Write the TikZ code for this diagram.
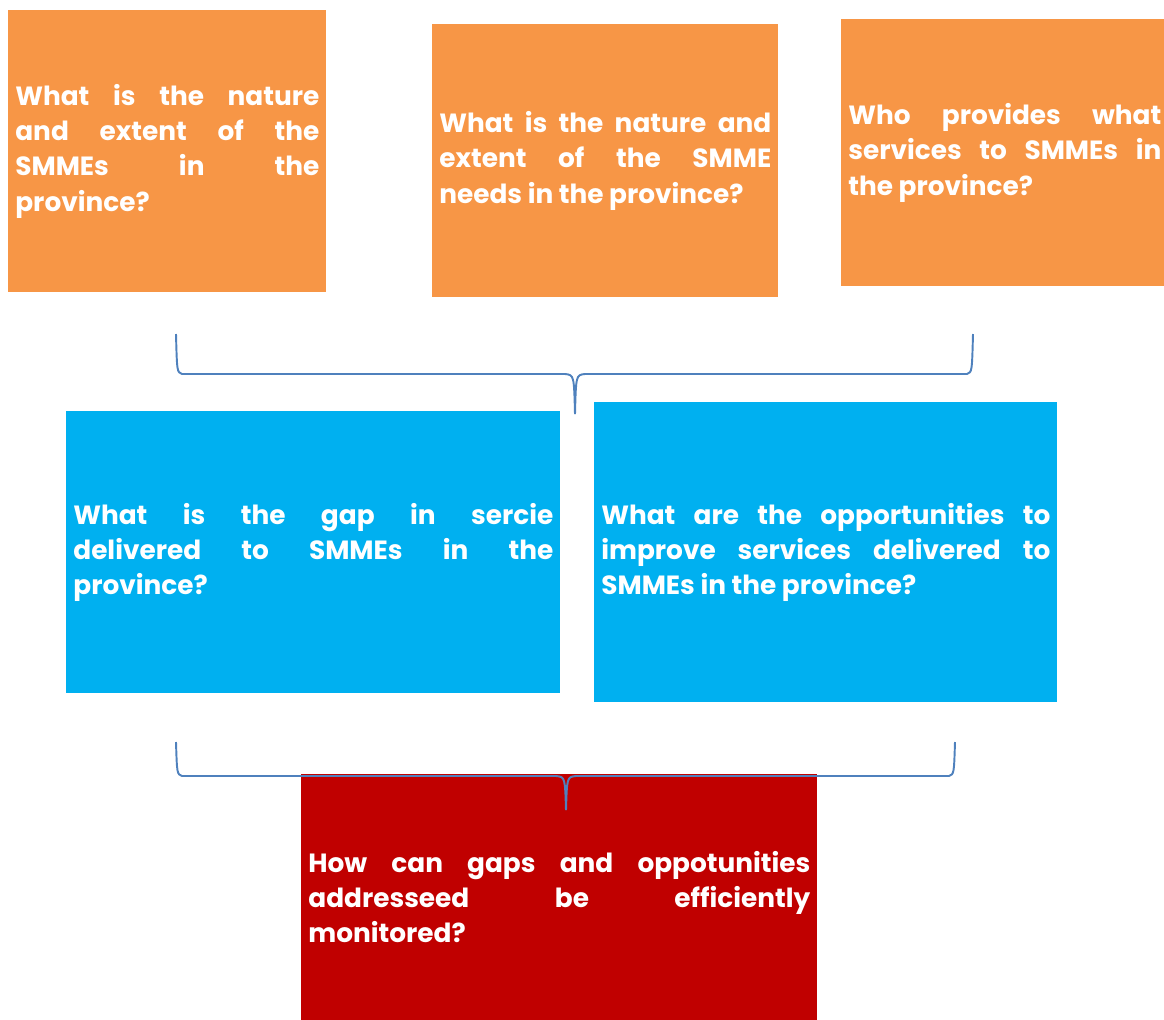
\documentclass[tikz,border=0pt]{standalone}
\usepackage{fontspec}
\setmainfont{Poppins}
\usepackage{xcolor}
\usepackage{tikz}
\usetikzlibrary{positioning}
\definecolor{qorange}{HTML}{F79646}
\definecolor{qblue}{HTML}{00B0F0}
\definecolor{qred}{HTML}{C00000}
\definecolor{bracecol}{HTML}{4F81BD}

\tikzset{
  question/.style={anchor=north west, inner xsep=0.14cm, inner ysep=0pt,
    text=white, align=justify, font=\bfseries\fontsize{15}{20}\selectfont},
  bracket/.style={draw=bracecol, line width=1.1pt}
}

\begin{document}
\begin{tikzpicture}
  \useasboundingbox (0,0) rectangle (23.28,-20.4);

  % top row
  \node[question, fill=qorange, minimum width=6.36cm, minimum height=5.64cm,
        text width=6.08cm] (nature) at (0.16,-0.20)
    {What is the nature\linebreak and extent of the\linebreak SMMEs in the\linebreak province?};
  \node[question, fill=qorange, minimum width=6.92cm, minimum height=5.46cm,
        text width=6.64cm] (needs) at (8.64,-0.48)
    {What is the nature and\linebreak extent of the SMME\linebreak needs in the province?};
  \node[question, fill=qorange, minimum width=6.54cm, minimum height=5.34cm,
        text width=6.26cm] (providers) at (16.82,-0.38)
    {Who provides what\linebreak services to SMMEs in\linebreak the province?};

  % middle row
  \node[question, fill=qblue, minimum width=9.84cm, minimum height=5.64cm,
        text width=9.60cm] (gap) at (1.32,-8.22)
    {What is the gap in sercie\linebreak delivered to SMMEs in the\linebreak province?};
  \node[question, fill=qblue, minimum width=9.24cm, minimum height=6.00cm,
        text width=8.98cm] (chances) at (11.88,-8.04)
    {What are the opportunities to\linebreak improve services delivered to\linebreak SMMEs in the province?};

  % bottom
  \node[question, fill=qred, minimum width=10.30cm, minimum height=4.92cm,
        text width=10.04cm] (monitor) at (6.02,-15.48)
    {How can gaps and oppotunities\linebreak addresseed be efficiently\linebreak monitored?};

  % brackets joining the rows
  \coordinate (tipA) at (11.50,-8.28);
  \coordinate (tipB) at (11.32,-16.20);
  \draw[bracket] (3.52,-6.68) .. controls (3.54,-7.44) .. (3.64,-7.48)
    -- (11.30,-7.48) .. controls (11.48,-7.50) .. (tipA);
  \draw[bracket] (19.46,-6.68) .. controls (19.44,-7.44) .. (19.34,-7.48)
    -- (11.70,-7.48) .. controls (11.52,-7.50) .. (tipA);
  \draw[bracket] (3.52,-14.84) .. controls (3.54,-15.48) .. (3.64,-15.52)
    -- (11.12,-15.52) .. controls (11.30,-15.54) .. (tipB);
  \draw[bracket] (19.10,-14.84) .. controls (19.08,-15.48) .. (18.98,-15.52)
    -- (11.52,-15.52) .. controls (11.34,-15.54) .. (tipB);
\end{tikzpicture}
\end{document}
